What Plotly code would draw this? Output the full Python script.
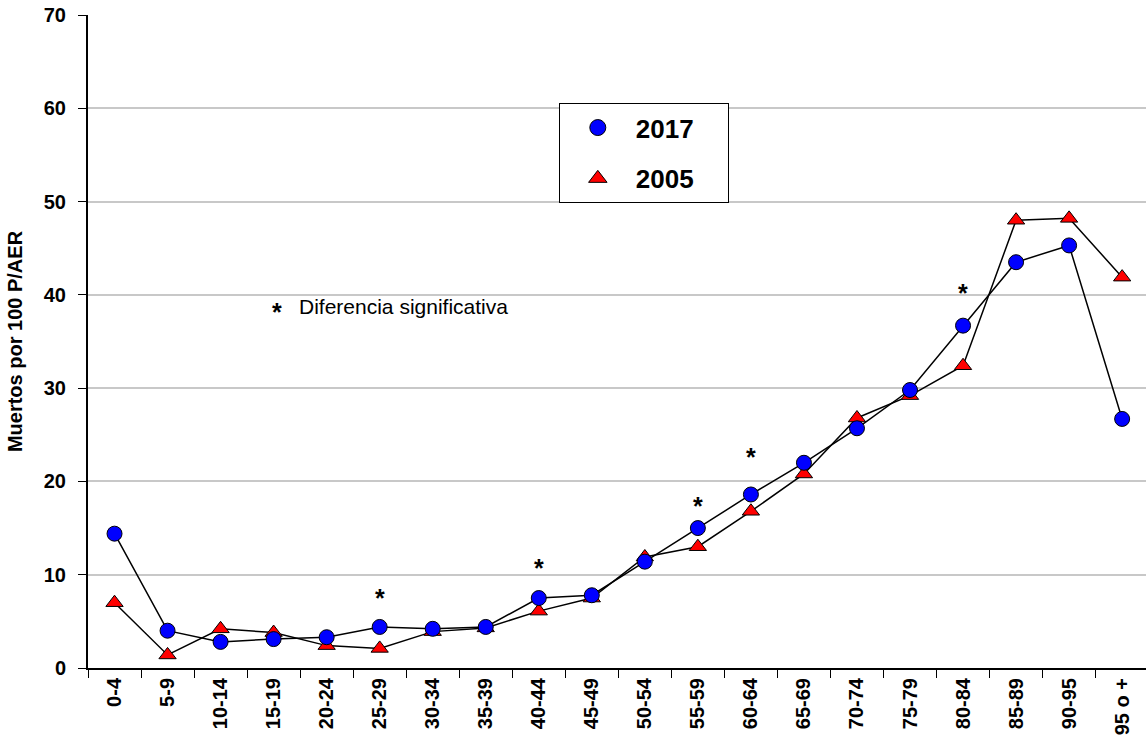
import plotly.graph_objects as go

# Age groups and mortality rates (deaths per 100 P/AER)
age_groups = ["0-4", "5-9", "10-14", "15-19", "20-24", "25-29", "30-34", "35-39",
              "40-44", "45-49", "50-54", "55-59", "60-64", "65-69", "70-74",
              "75-79", "80-84", "85-89", "90-95", "95 o +"]
rate_2017 = [14.4, 4.0, 2.8, 3.1, 3.3, 4.4, 4.2, 4.4, 7.5, 7.8, 11.4, 15.0,
             18.6, 22.0, 25.7, 29.8, 36.7, 43.5, 45.3, 26.7]
rate_2005 = [7.0, 1.4, 4.2, 3.8, 2.4, 2.1, 3.9, 4.3, 6.1, 7.5, 11.9, 13.0,
             16.8, 20.8, 26.8, 29.2, 32.4, 48.0, 48.2, 41.9]

# Age groups with a significant difference, and the height of their asterisk
significant = ["25-29", "40-44", "55-59", "60-64", "80-84"]
asterisk_y = [7.9, 11.2, 17.8, 23.1, 40.6]

FONT = "Arial, Liberation Sans, sans-serif"

series = [
    dict(name="2005", y=rate_2005, symbol="triangle-up", color="#ff0000"),
    dict(name="2017", y=rate_2017, symbol="circle", color="#0000ff"),
]

fig = go.Figure()

# Data lines (2005 underneath, 2017 on top)
for s in series:
    fig.add_trace(go.Scatter(
        x=age_groups, y=s["y"], name=s["name"], mode="lines+markers",
        showlegend=False,
        line=dict(color="black", width=1.5),
        marker=dict(symbol=s["symbol"], size=15, color=s["color"],
                    line=dict(color="black", width=1)),
    ))

# Marker-only legend entries (2017 listed first); trailing no-break
# spaces widen the legend box
for i, s in enumerate(reversed(series)):
    fig.add_trace(go.Scatter(
        x=[None], y=[None], name=s["name"] + "\u00a0" * 4, mode="markers",
        legendgroup=f"g{i}", showlegend=True,
        marker=dict(symbol=s["symbol"], size=22, color=s["color"],
                    line=dict(color="black", width=1)),
    ))

STAR_FONT = dict(family=FONT, size=25, color="black", weight="bold")

annotations = []
for cat, yv in zip(significant, asterisk_y):
    annotations.append(dict(
        x=cat, y=yv, xref="x", yref="y", text="*", showarrow=False,
        font=STAR_FONT, yshift=-4,
    ))

annotations.append(dict(
    x=3.06, y=38.7, xref="x", yref="y", text="*", showarrow=False,
    font=STAR_FONT, yshift=-5,
))
annotations.append(dict(
    x=3.45, y=38.7, xref="x", yref="y", text="Diferencia significativa",
    showarrow=False, xanchor="left",
    font=dict(family=FONT, size=21, color="black"),
))

fig.update_layout(
    width=1146, height=751,
    margin=dict(l=88, r=0, t=15, b=83),
    paper_bgcolor="white", plot_bgcolor="white",
    font=dict(family=FONT, color="black"),
    showlegend=True,
    legend=dict(
        x=0.445, y=0.865, xanchor="left", yanchor="top",
        bgcolor="white", bordercolor="black", borderwidth=1,
        font=dict(family=FONT, size=26, color="black", weight="bold"),
        traceorder="grouped", tracegroupgap=14,
        itemsizing="trace", itemwidth=66,
    ),
    annotations=annotations,
    xaxis=dict(
        type="category", range=[-0.5, 19.45],
        tickson="boundaries", ticks="outside", ticklen=8, tickwidth=1,
        tickcolor="black", showline=True, linecolor="black", linewidth=2,
        showgrid=False, tickangle=-90,
        tickfont=dict(family=FONT, size=20, color="black", weight="bold"),
    ),
    yaxis=dict(
        range=[0, 70], dtick=10, ticks="outside", ticklen=8, tickwidth=1,
        tickcolor="black", showline=True, linecolor="black", linewidth=2,
        showgrid=True, gridcolor="#c8c8c8", gridwidth=1.5, zeroline=False,
        ticklabelstandoff=8,
        tickfont=dict(family=FONT, size=20, color="black", weight="bold"),
        title=dict(text="Muertos por 100 P/AER", standoff=16,
                   font=dict(family=FONT, size=20, color="black", weight="bold")),
    ),
)

fig.write_html("out.html")
